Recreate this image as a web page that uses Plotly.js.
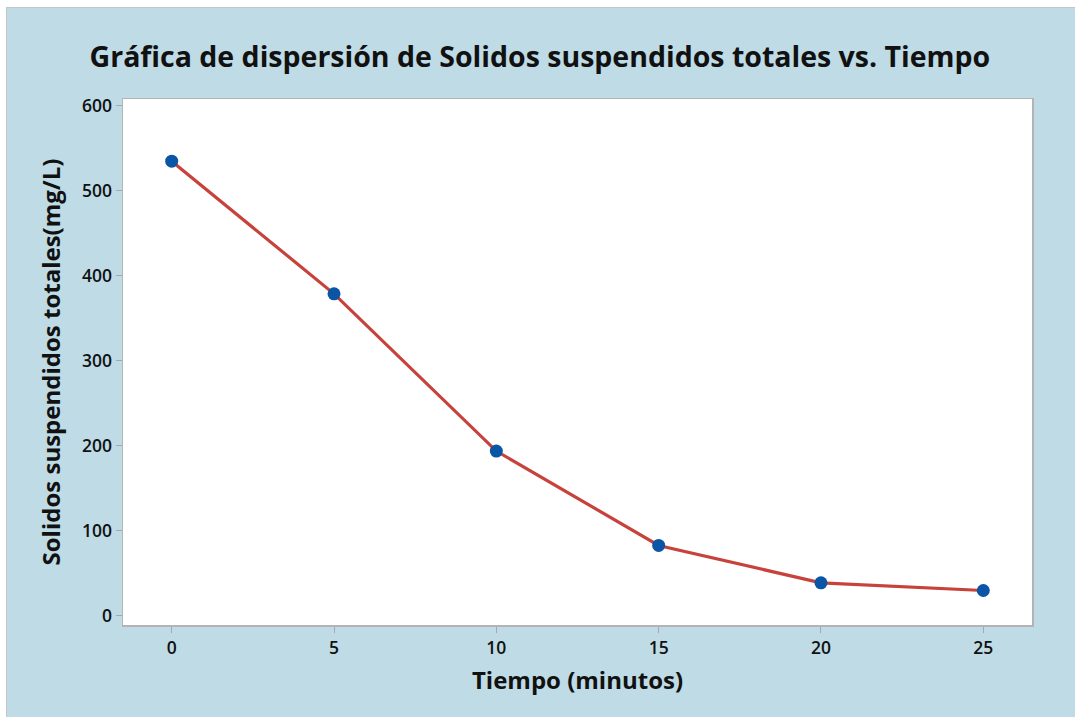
<!DOCTYPE html>
<html>
<head>
<meta charset="utf-8">
<script src="https://cdn.plot.ly/plotly-3.0.1.min.js"></script>
<style>
  html, body { margin: 0; padding: 0; background: #ffffff; width: 1075px; height: 717px; overflow: hidden; }
  #frame { position: absolute; left: 6px; top: 7px; width: 1069px; height: 710px;
           border-left: 1px solid #c6c6c6; border-top: 1px solid #c6c6c6; background: #bedbe6; }
  #chart { width: 1069px; height: 710px; }
</style>
</head>
<body>
<div id="frame"><div id="chart"></div></div>
<script>
const tiempo = [0, 5, 10, 15, 20, 25];
const solidos = [535, 379, 194, 83, 39, 30];
const xTicks = [0, 5, 10, 15, 20, 25];
const yTicks = [0, 100, 200, 300, 400, 500, 600];

const fontFam = '"Open Sans", "Noto Sans", sans-serif';

const traces = [
  {
    x: tiempo, y: solidos, type: 'scatter', mode: 'lines',
    line: { color: '#c8423c', width: 3.2 }, hoverinfo: 'skip', showlegend: false
  },
  {
    x: tiempo, y: solidos, type: 'scatter', mode: 'markers',
    marker: { color: '#0a55a5', size: 13 }, showlegend: false
  }
];

const layout = {
  width: 1069, height: 710,
  paper_bgcolor: '#bedbe6',
  plot_bgcolor: '#ffffff',
  margin: { l: 116, r: 44, t: 91, b: 93 },
  title: {
    text: '<b>Gráfica de dispersión de Solidos suspendidos totales vs. Tiempo</b>',
    font: { family: fontFam, size: 28.5, color: '#111111' },
    x: 0.4985, xanchor: 'center', y: 0.931, yanchor: 'middle'
  },
  xaxis: {
    range: [-1.5, 26.5],
    tickvals: xTicks, ticktext: xTicks.map(String),
    ticks: 'outside', ticklen: 6, tickcolor: '#a8a8a8', tickwidth: 1,
    showgrid: false, zeroline: false,
    showline: true, linecolor: '#b4b4b4', linewidth: 1.5, mirror: true,
    tickfont: { family: fontFam, size: 17.5, color: '#111111', weight: 600 },
    title: { text: '<b>Tiempo (minutos)</b>', font: { family: fontFam, size: 24, color: '#111111' }, standoff: 14 }
  },
  yaxis: {
    range: [-10.6, 608.2],
    tickvals: yTicks, ticktext: yTicks.map(String),
    ticks: 'outside', ticklen: 6, tickcolor: '#a8a8a8', tickwidth: 1,
    showgrid: false, zeroline: false,
    showline: true, linecolor: '#b4b4b4', linewidth: 1.5, mirror: true,
    tickfont: { family: fontFam, size: 17.5, color: '#111111', weight: 600 },
    title: { text: '<b>Solidos suspendidos totales(mg/L)</b>', font: { family: fontFam, size: 24, color: '#111111' }, standoff: 14 }
  }
};

Plotly.newPlot('chart', traces, layout, { displayModeBar: false, staticPlot: true });
</script>
</body>
</html>
